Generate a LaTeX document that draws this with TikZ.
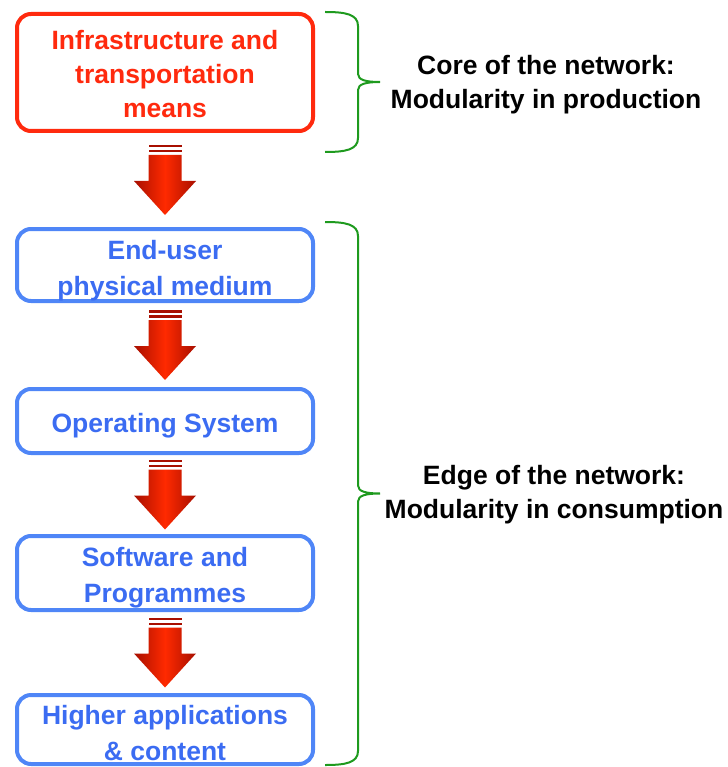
\documentclass[tikz,border=0pt]{standalone}
\usepackage{fontspec}
\setmainfont{Liberation Sans}
\usepackage{tikz}
\usepackage{xcolor}
\usetikzlibrary{positioning,calc}
\definecolor{boxred}{HTML}{FF2A0E}
\definecolor{boxblue}{HTML}{4F86F7}
\definecolor{textblue}{HTML}{3B6CF2}
\definecolor{arrowred}{HTML}{FF2A00}
\definecolor{arrowdark}{HTML}{A80F00}
\definecolor{netgreen}{HTML}{1E9A1E}
\newcommand{\boxfont}{\bfseries\fontsize{26.5}{34}\selectfont}
\newcommand{\wideboxfont}{\bfseries\fontsize{26.5}{36}\selectfont}
\newcommand{\flowarrow}[2]{%
  \path (#1.south) -- (#2.north) coordinate[pos=0.5] (m);
  \begin{scope}[shift={(m)}]
    \fill[arrowdark] (-16.5,-35) rectangle (16.5,-32.5);
    \fill[arrowdark] (-16.5,-30) rectangle (16.5,-27.5);
    \shade[left color=arrowdark, right color=arrowdark, middle color=arrowred]
      (-16.5,-25) -- (16.5,-25) -- (16.5,1) -- (31,1) -- (0,35) -- (-31,1) -- (-16.5,1) -- cycle;
  \end{scope}}
\newcommand{\netbrace}[2]{%
  \pgfmathsetmacro{\bmid}{(#1+#2)/2}
  \draw[netline] (325,#1) .. controls (345,#1) and (358,#1+2) .. (358,#1+14)
    -- (358,\bmid-8) .. controls (358,\bmid-2) and (366,\bmid) .. (380,\bmid)
    .. controls (366,\bmid) and (358,\bmid+2) .. (358,\bmid+8)
    -- (358,#2-14) .. controls (358,#2-2) and (345,#2) .. (325,#2);}
\tikzstyle{redbox} = [draw=boxred, line width=4pt, rounded corners=14pt, minimum width=296pt]
\tikzstyle{bluebox} = [draw=boxblue, line width=4pt, rounded corners=14pt, minimum width=296pt]
\tikzstyle{redtext} = [align=center, text=boxred, font=\boxfont, inner sep=0pt]
\tikzstyle{bluetext} = [align=center, text=textblue, font=\wideboxfont, inner sep=0pt]
\tikzstyle{note} = [align=center, font=\boxfont]
\tikzstyle{netline} = [draw=netgreen, line width=2pt]

\begin{document}
\begin{tikzpicture}[x=1pt, y=-1pt]
  \useasboundingbox (0,0) rectangle (727,767);
  % the five layers
  \node[redbox, minimum height=117pt] (infra) at (165,72.5) {};
  \node[bluebox, minimum height=72pt] (medium) at (165,265) {};
  \node[bluebox, minimum height=64pt] (os) at (165,421) {};
  \node[bluebox, minimum height=74pt] (soft) at (165,573) {};
  \node[bluebox, minimum height=69pt] (apps) at (165,729.5) {};
  \node[redtext] (infra-t) at ([yshift=-2pt]infra.center) {Infrastructure and\\transportation\\means};
  \node[bluetext] (medium-t) at ([yshift=-6pt]medium.center) {End-user\\physical medium};
  \node[bluetext] (os-t) at ([yshift=-5pt]os.center) {Operating System};
  \node[bluetext] (soft-t) at ([yshift=-5pt]soft.center) {Software and\\Programmes};
  \node[bluetext] (apps-t) at ([yshift=-3.5pt]apps.center) {Higher applications\\\& content};
  \flowarrow{infra}{medium}
  \flowarrow{medium}{os}
  \flowarrow{os}{soft}
  \flowarrow{soft}{apps}
  % braces and their notes
  \netbrace{12}{152}
  \netbrace{222}{765}
  \node[note] (core) at (546,85) {Core of the network:\\Modularity in production};
  \node[note] (edge) at (554,495) {Edge of the network:\\Modularity in consumption};
\end{tikzpicture}
\end{document}
